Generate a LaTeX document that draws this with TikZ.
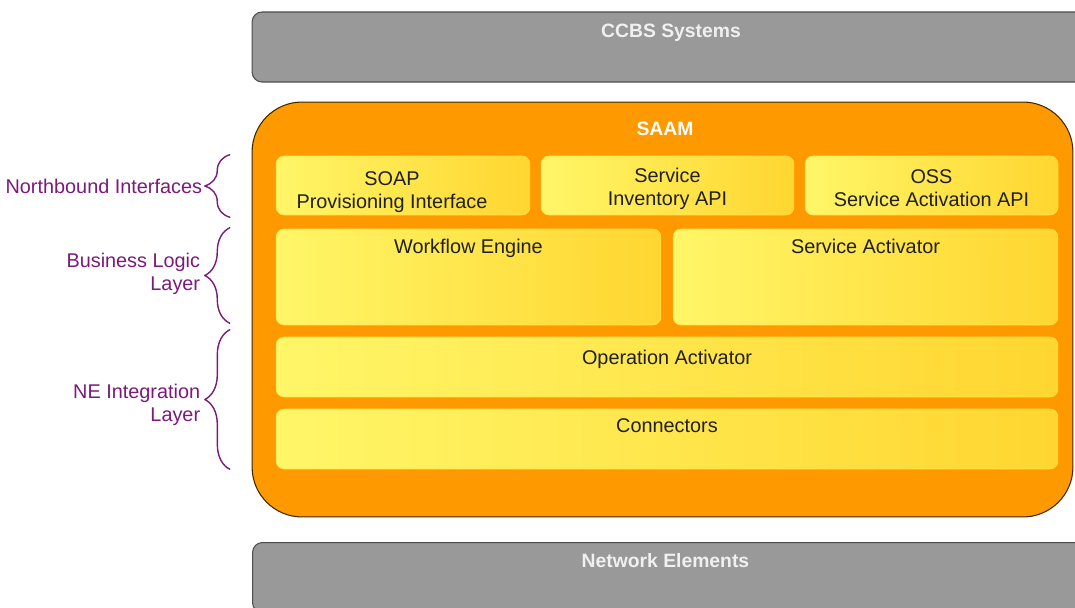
\documentclass[tikz,border=0pt]{standalone}
\usepackage{fontspec}
\setmainfont{Liberation Sans}
\usetikzlibrary{positioning,decorations.pathreplacing}
\definecolor{saamorange}{RGB}{255,153,0}
\definecolor{sysgrey}{RGB}{153,153,153}
\definecolor{layerpurple}{RGB}{122,26,122}
\definecolor{boxlight}{RGB}{255,246,104}
\definecolor{boxdark}{RGB}{255,214,48}
\tikzset{
	sysbox/.style={draw=black!70, fill=sysgrey, rounded corners=0.2cm, line width=0.6pt, minimum width=16.76cm, minimum height=1.4cm},
	systext/.style={font=\fontsize{11}{13}\selectfont\bfseries, text=white!94!black, inner sep=0pt},
	modbox/.style={shade, left color=boxlight, right color=boxdark, draw=boxlight!50!boxdark, line width=0.3pt, rounded corners=0.16cm},
	modtext/.style={font=\fontsize{11.3}{13}\selectfont, text=black!88, inner sep=0pt, align=center},
	layerbrace/.style={decorate, decoration={brace, amplitude=0.5cm}, draw=layerpurple, line width=0.8pt},
	layertext/.style={font=\fontsize{11.3}{13}\selectfont, text=layerpurple, align=right, inner sep=0pt, anchor=east},
}
\begin{document}
\begin{tikzpicture}[x=0.02cm, y=-0.02cm, line join=round, line cap=round]
	\useasboundingbox (0,0) rectangle (1075,608);
	\clip (0,0) rectangle (1075,608);
	% systems above and below
	\node[sysbox] (ccbs) at (671,47) {};
	\node[systext, below=0.24cm of ccbs.north] (ccbstxt) {CCBS Systems};
	\node[sysbox, anchor=north west] (ne) at (252,542) {};
	\node[systext, below=0.22cm of ne.north, xshift=-0.12cm] (netxt) {Network Elements};
	% SAAM
	\node[draw=black!75!saamorange, fill=saamorange, rounded corners=1cm, line width=0.6pt,
		minimum width=16.42cm, minimum height=8.3cm] (saam) at (662.5,309.5) {};
	\node[systext, text=white, below=0.4cm of saam.north, xshift=0.05cm] (saamtxt) {SAAM};
	% northbound interfaces
	\node[modbox, minimum width=5.08cm, minimum height=1.18cm] (soap) at (403,185.5) {};
	\node[modbox, minimum width=5.06cm, minimum height=1.18cm] (inv) at (667.5,185.5) {};
	\node[modbox, minimum width=5.06cm, minimum height=1.18cm] (oss) at (931.5,185.5) {};
	\node[modtext, yshift=-0.14cm, xshift=-0.22cm] (soaptxt) at (soap) {SOAP\\Provisioning Interface};
	\node[modtext, yshift=-0.07cm] (invtxt) at (inv) {Service\\Inventory API};
	\node[modtext, yshift=-0.05cm] (osstxt) at (oss) {OSS\\Service Activation API};
	% business logic
	\node[modbox, minimum width=7.7cm, minimum height=1.92cm] (wf) at (468.5,277) {};
	\node[modbox, minimum width=7.7cm, minimum height=1.92cm] (sa) at (865.5,277) {};
	\node[modtext, below=0.21cm of wf.north] (wftxt) {Workflow Engine};
	\node[modtext, below=0.21cm of sa.north] (satxt) {Service Activator};
	% NE integration
	\node[modbox, minimum width=15.64cm, minimum height=1.2cm] (op) at (667,367) {};
	\node[modbox, minimum width=15.64cm, minimum height=1.2cm] (con) at (667,439) {};
	\node[modtext, below=0.27cm of op.north] (optxt) {Operation Activator};
	\node[modtext, below=0.2cm of con.north] (contxt) {Connectors};
	% layer braces
	\draw[layerbrace] ([xshift=-0.92cm, yshift=-0.04cm]soap.south west) -- ([xshift=-0.92cm, yshift=0.02cm]soap.north west)
		node[layertext, midway, xshift=-0.54cm] (nbtxt) {Northbound Interfaces};
	\draw[layerbrace] ([xshift=-0.92cm, yshift=0.04cm]wf.south west) -- ([xshift=-0.92cm, yshift=0.02cm]wf.north west)
		node[layertext, midway, xshift=-0.58cm, yshift=0.04cm] (bltxt) {Business Logic\\Layer};
	\draw[layerbrace] ([xshift=-0.92cm]con.south west) -- ([xshift=-0.92cm, yshift=0.14cm]op.north west)
		node[layertext, midway, xshift=-0.58cm, yshift=-0.1cm] (netxt2) {NE Integration\\Layer};
\end{tikzpicture}
\end{document}
